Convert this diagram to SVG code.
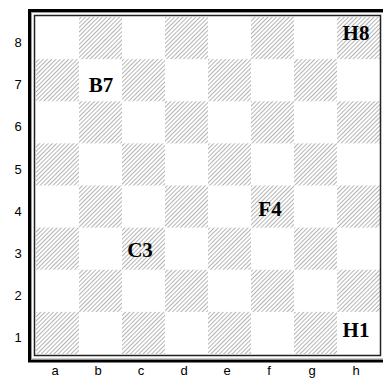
<svg xmlns="http://www.w3.org/2000/svg" width="383" height="379" viewBox="0 0 383 379">
<style>
.lbl{font-family:"Liberation Sans",Arial,sans-serif;font-size:13px;fill:#000;text-anchor:middle}
.sq{font-family:"Liberation Serif","Times New Roman",serif;font-size:21px;font-weight:bold;fill:#000;text-anchor:middle}
.dark{fill:url(#hatch)}
</style>
<defs>
<pattern id="hatch" patternUnits="userSpaceOnUse" width="3" height="3" patternTransform="rotate(45)">
<line x1="0.5" y1="0" x2="0.5" y2="3" stroke="#b4b4b4" stroke-width="1"/>
</pattern>
</defs>
<rect width="383" height="379" fill="#fff"/>
<g id="board">
<rect x="35" y="16" width="345" height="339" fill="#fff"/>
<g id="darksquares">
<rect class="dark" x="79" y="17" width="43" height="42.125"/>
<rect class="dark" x="165" y="17" width="43" height="42.125"/>
<rect class="dark" x="251" y="17" width="43" height="42.125"/>
<rect class="dark" x="337" y="17" width="43" height="42.125"/>
<rect class="dark" x="36" y="59.125" width="43" height="42.125"/>
<rect class="dark" x="122" y="59.125" width="43" height="42.125"/>
<rect class="dark" x="208" y="59.125" width="43" height="42.125"/>
<rect class="dark" x="294" y="59.125" width="43" height="42.125"/>
<rect class="dark" x="79" y="101.25" width="43" height="42.125"/>
<rect class="dark" x="165" y="101.25" width="43" height="42.125"/>
<rect class="dark" x="251" y="101.25" width="43" height="42.125"/>
<rect class="dark" x="337" y="101.25" width="43" height="42.125"/>
<rect class="dark" x="36" y="143.375" width="43" height="42.125"/>
<rect class="dark" x="122" y="143.375" width="43" height="42.125"/>
<rect class="dark" x="208" y="143.375" width="43" height="42.125"/>
<rect class="dark" x="294" y="143.375" width="43" height="42.125"/>
<rect class="dark" x="79" y="185.5" width="43" height="42.125"/>
<rect class="dark" x="165" y="185.5" width="43" height="42.125"/>
<rect class="dark" x="251" y="185.5" width="43" height="42.125"/>
<rect class="dark" x="337" y="185.5" width="43" height="42.125"/>
<rect class="dark" x="36" y="227.625" width="43" height="42.125"/>
<rect class="dark" x="122" y="227.625" width="43" height="42.125"/>
<rect class="dark" x="208" y="227.625" width="43" height="42.125"/>
<rect class="dark" x="294" y="227.625" width="43" height="42.125"/>
<rect class="dark" x="79" y="269.75" width="43" height="42.125"/>
<rect class="dark" x="165" y="269.75" width="43" height="42.125"/>
<rect class="dark" x="251" y="269.75" width="43" height="42.125"/>
<rect class="dark" x="337" y="269.75" width="43" height="42.125"/>
<rect class="dark" x="36" y="311.875" width="43" height="42.125"/>
<rect class="dark" x="122" y="311.875" width="43" height="42.125"/>
<rect class="dark" x="208" y="311.875" width="43" height="42.125"/>
<rect class="dark" x="294" y="311.875" width="43" height="42.125"/>
</g>
</g>
<g id="frame" fill="none">
<rect x="29.5" y="10.5" width="360" height="350.5" stroke="#000" stroke-width="3"/>
<rect x="31.5" y="12.5" width="356" height="346.5" stroke="#999" stroke-width="1"/>
<rect x="34.5" y="15.5" width="346" height="340" stroke="#222" stroke-width="1.5"/>
</g>
<g id="rank-labels">
<text class="lbl" x="18" y="47">8</text>
<text class="lbl" x="18" y="89">7</text>
<text class="lbl" x="18" y="131">6</text>
<text class="lbl" x="18" y="174">5</text>
<text class="lbl" x="18" y="216">4</text>
<text class="lbl" x="18" y="258">3</text>
<text class="lbl" x="18" y="300">2</text>
<text class="lbl" x="18" y="342">1</text>
</g>
<g id="file-labels">
<text class="lbl" x="55" y="375">a</text>
<text class="lbl" x="98" y="375">b</text>
<text class="lbl" x="141" y="375">c</text>
<text class="lbl" x="184" y="375">d</text>
<text class="lbl" x="227" y="375">e</text>
<text class="lbl" x="269" y="375">f</text>
<text class="lbl" x="312" y="375">g</text>
<text class="lbl" x="356" y="375">h</text>
</g>
<g id="node-B7"><text class="sq" x="101" y="92">B7</text></g>
<g id="node-H8"><text class="sq" x="356" y="40">H8</text></g>
<g id="node-F4"><text class="sq" x="270" y="216">F4</text></g>
<g id="node-C3"><text class="sq" x="140" y="257">C3</text></g>
<g id="node-H1"><text class="sq" x="356" y="337">H1</text></g>
</svg>
